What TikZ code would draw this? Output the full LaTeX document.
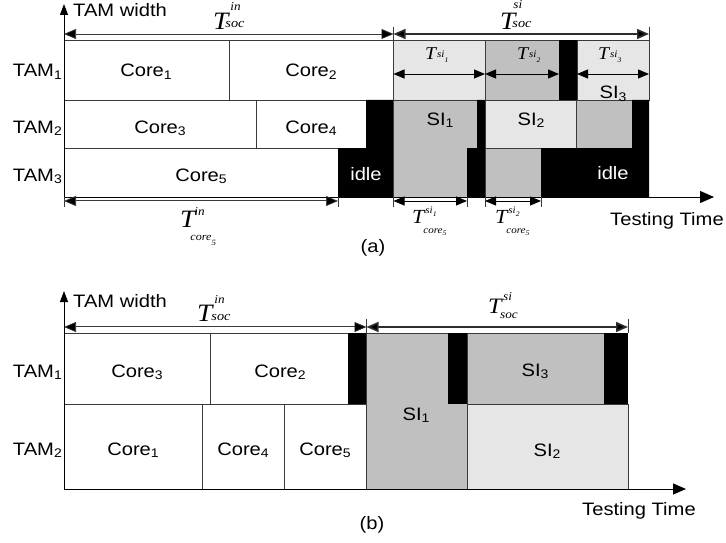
\documentclass[tikz,border=0pt]{standalone}
\usepackage{fontspec}
\setmainfont{Liberation Sans}[FakeStretch=1.12]
\newfontfamily\tms{Liberation Serif}[FakeStretch=1.1]
\usetikzlibrary{arrows.meta}
\definecolor{lg}{HTML}{E6E6E6}
\definecolor{mg}{HTML}{C0C0C0}
\definecolor{bd}{HTML}{3A3A3A}
\newcommand\Tg[1]{{\fontsize{#1}{#1}\selectfont T}}
\newcommand\Ss[3]{\raisebox{#2}{\fontsize{#1}{#1}\selectfont #3}}
\newcommand\sbs[1]{\raisebox{-0.3ex}{\fontsize{12.5}{12.5}\selectfont #1}}
\begin{document}
\begin{tikzpicture}[x=1pt,y=-1pt,
  cell/.style={draw=bd,line width=0.7pt},
  lbl/.style={font=\fontsize{18}{20}\selectfont,inner sep=0pt,anchor=base},
  tlab/.style={font=\tms\itshape,inner sep=0pt,anchor=base west},
  axarrow/.style={line width=1pt,-{Triangle[length=14pt,width=12pt]}},
  yarrow/.style={line width=1pt,-{Triangle[length=11pt,width=8pt]}},
  dimdbl/.style={draw=bd,double=white,double distance=1pt,line width=0.7pt,
     {Triangle[length=12pt,width=10pt,fill=black]}-{Triangle[length=12pt,width=10pt,fill=black]}},
  dimthick/.style={draw=bd!80!black,line width=1.6pt,
     {Triangle[length=12pt,width=10pt,fill=black]}-{Triangle[length=12pt,width=10pt,fill=black]}},
  dimthin/.style={draw=black,line width=0.9pt,
     {Triangle[length=11pt,width=9pt]}-{Triangle[length=11pt,width=9pt]}},
  tick/.style={draw=bd,line width=0.7pt}]
\useasboundingbox (0,0) rectangle (726,543);

% ================= (a) =================
% white cells
\draw[cell] (64,40) rectangle (229,100);
\draw[cell] (229,40) rectangle (393.5,100);
\draw[cell] (64,100) rectangle (256,148);
\draw[cell] (256,100) rectangle (366,148);
\draw[cell] (64,148) rectangle (338,197);
\fill[black] (366,100) -- (393.5,100) -- (393.5,197) -- (338,197) -- (338,148) -- (366,148) -- cycle;
% SI area
\filldraw[cell,fill=lg] (393.5,40) rectangle (485,100);
\filldraw[cell,fill=mg] (485,40) rectangle (559,100);
\fill[black] (559,40) rectangle (577,100);
\filldraw[cell,fill=lg] (577,40) rectangle (649,100);
\filldraw[cell,fill=mg] (393.5,100) -- (477,100) -- (477,148) -- (467,148) -- (467,197) -- (393.5,197) -- cycle;
\fill[black] (477,100) -- (485,100) -- (485,197) -- (467,197) -- (467,148) -- (477,148) -- cycle;
\filldraw[cell,fill=lg] (485,100) rectangle (576,148);
\filldraw[cell,fill=mg] (485,148) rectangle (541,197);
\filldraw[cell,fill=mg] (576,100) rectangle (632,148);
\fill[black] (632,100) -- (649,100) -- (649,197) -- (541,197) -- (541,148) -- (632,148) -- cycle;

% axes
\coordinate (oa) at (64,197);
\coordinate (ya) at (64,4);
\coordinate (xa) at (714,197);
\draw[yarrow] (oa) -- (ya);
\draw[axarrow] (oa) -- (xa);

% top dimensions
\coordinate (ta0) at (64,34);
\coordinate (ta1) at (393.5,34);
\coordinate (ta2) at (649,34);
\draw[tick] (393.5,27) -- (393.5,40);
\draw[tick] (649,27) -- (649,40);
\draw[dimdbl] (ta0) -- (ta1);
\draw[dimthick] (ta1) -- (ta2);

% T_si arrows
\coordinate (s1a) at (393.5,74); \coordinate (s1b) at (485,74);
\coordinate (s2b) at (559,74);
\coordinate (s3a) at (577,74); \coordinate (s3b) at (649,74);
\draw[dimthin] (s1a) -- (s1b);
\draw[dimthin] (s1b) -- (s2b);
\draw[dimthin] (s3a) -- (s3b);

% bottom dimensions
\coordinate (ba0) at (64,201); \coordinate (ba1) at (338,201);
\coordinate (ba2) at (393.5,201); \coordinate (ba3) at (467,201);
\coordinate (ba4) at (485,201); \coordinate (ba5) at (541,201);
\foreach \xx in {64,338,393.5,467,485,541} \draw[tick] (\xx,197) -- (\xx,207);
\draw[dimdbl] (ba0) -- (ba1);
\draw[dimthin] (ba2) -- (ba3);
\draw[dimthin] (ba4) -- (ba5);

% texts (a)
\node[lbl,anchor=base west] (tamwa) at (73,17) {TAM width};
\node[lbl,anchor=base east] (tam1a) at (62,77) {TAM\sbs{1}};
\node[lbl,anchor=base east] (tam2a) at (62,133) {TAM\sbs{2}};
\node[lbl,anchor=base east] (tam3a) at (62,181) {TAM\sbs{3}};
\node[lbl] (c1a) at (146,77) {Core\sbs{1}};
\node[lbl] (c2a) at (311,77) {Core\sbs{2}};
\node[lbl] (c3a) at (160,133) {Core\sbs{3}};
\node[lbl] (c4a) at (311,133) {Core\sbs{4}};
\node[lbl] (c5a) at (201,181) {Core\sbs{5}};
\node[lbl,text=white] (idle1) at (366,180) {idle};
\node[lbl,text=white] (idle2) at (613,179) {idle};
\node[lbl] (si1a) at (440,125) {SI\sbs{1}};
\node[lbl] (si2a) at (531,125) {SI\sbs{2}};
\node[lbl] (si3a) at (613,99) {SI\sbs{3}};
\node[lbl,anchor=base west] (ttimea) at (610,225) {Testing Time};
\node[lbl] (capa) at (373,252) {(a)};

\node[tlab] (tsocin) at (213,30) {\Tg{25}\kern-3pt\rlap{\kern5pt\Ss{12}{19pt}{in}}\Ss{13}{2pt}{soc}};
\node[tlab] (tsocsi) at (500,30) {\Tg{25}\kern-3pt\rlap{\kern1pt\Ss{12}{21pt}{si}}\Ss{13}{2pt}{soc}};
\node[tlab] (tsi1) at (425,60) {\Tg{18}\kern1pt\Ss{10}{2pt}{si}\Ss{7}{-2pt}{1}};
\node[tlab] (tsi2) at (517,60) {\Tg{18}\kern1pt\Ss{10}{2pt}{si}\Ss{7}{-2pt}{2}};
\node[tlab] (tsi3) at (598,60) {\Tg{18}\kern1pt\Ss{10}{2pt}{si}\Ss{7}{-2pt}{3}};
\node[tlab] (tcin) at (180,227) {\Tg{25}\rlap{\kern-1pt\Ss{12}{12pt}{in}}\kern-5pt\Ss{11}{-13pt}{core}\Ss{8}{-18pt}{5}};
\node[tlab] (tcsi1) at (412,223) {\Tg{20}\rlap{\kern1pt\Ss{10}{10pt}{si}\Ss{7}{7pt}{1}}\kern-1pt\Ss{10}{-10pt}{core}\Ss{7}{-12pt}{5}};
\node[tlab] (tcsi2) at (495,223) {\Tg{20}\rlap{\kern1pt\Ss{10}{10pt}{si}\Ss{7}{7pt}{2}}\kern-1pt\Ss{10}{-10pt}{core}\Ss{7}{-12pt}{5}};

% ================= (b) =================
\draw[cell] (64,333) rectangle (210,404);
\draw[cell] (210,333) rectangle (348,404);
\fill[black] (348,333) rectangle (366.5,404);
\draw[cell] (64,404) rectangle (202,489);
\draw[cell] (202,404) rectangle (284,489);
\draw[cell] (284,404) rectangle (366.5,489);
\filldraw[cell,fill=mg] (366.5,333) rectangle (467,489);
\fill[black] (448,333) rectangle (467,404);
\filldraw[cell,fill=mg] (467,333) rectangle (604,404);
\fill[black] (604,333) rectangle (628,404);
\filldraw[cell,fill=lg] (467,404) rectangle (628,489);

\coordinate (ob) at (64,489);
\coordinate (yb) at (64,291);
\coordinate (xb) at (686,489);
\draw[yarrow] (ob) -- (yb);
\draw[line width=1pt,-{Triangle[length=13pt,width=11pt]}] (ob) -- (xb);

\coordinate (tb0) at (64,327);
\coordinate (tb1) at (366.5,327);
\coordinate (tb2) at (628,327);
\draw[tick] (366.5,319) -- (366.5,333);
\draw[tick] (628,319) -- (628,333);
\draw[dimdbl] (tb0) -- (tb1);
\draw[dimthick] (tb1) -- (tb2);

\node[lbl,anchor=base west] (tamwb) at (73,307) {TAM width};
\node[lbl,anchor=base east] (tam1b) at (62,377) {TAM\sbs{1}};
\node[lbl,anchor=base east] (tam2b) at (62,455) {TAM\sbs{2}};
\node[lbl] (c3b) at (137,377) {Core\sbs{3}};
\node[lbl] (c2b) at (280,377) {Core\sbs{2}};
\node[lbl] (c1b) at (133,455) {Core\sbs{1}};
\node[lbl] (c4b) at (243,455) {Core\sbs{4}};
\node[lbl] (c5b) at (325,455) {Core\sbs{5}};
\node[lbl] (si1b) at (416,420) {SI\sbs{1}};
\node[lbl] (si3b) at (535,376) {SI\sbs{3}};
\node[lbl] (si2b) at (547,456) {SI\sbs{2}};
\node[lbl,anchor=base west] (ttimeb) at (582,515) {Testing Time};
\node[lbl] (capb) at (372,529) {(b)};

\node[tlab] (tsocinb) at (197,321) {\Tg{25}\kern-1pt\rlap{\kern3pt\Ss{12}{18pt}{in}}\Ss{13}{1pt}{soc}};
\node[tlab] (tsocsib) at (488,313) {\Tg{22}\kern-1.5pt\rlap{\kern3pt\Ss{12}{13pt}{si}}\Ss{12}{-5pt}{soc}};
\end{tikzpicture}
\end{document}
